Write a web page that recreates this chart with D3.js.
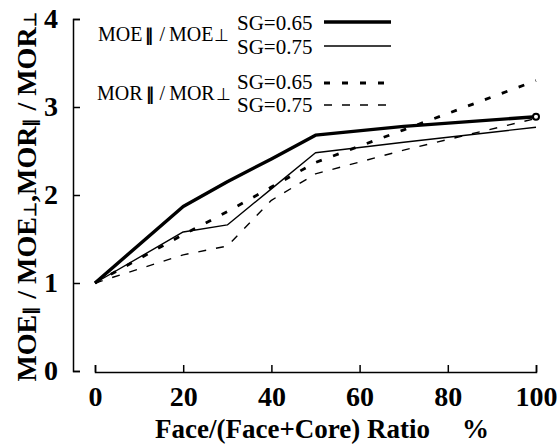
<!DOCTYPE html>
<html>
<head>
<meta charset="utf-8">
<script src="https://cdn.jsdelivr.net/npm/d3@7"></script>
<style>
  body { margin: 0; background: #fff; }
  svg { display: block; }
  text { font-family: "Liberation Serif", "Times New Roman", serif; fill: #000; }
</style>
</head>
<body>
<div id="chart"></div>
<script>
var w = 557, h = 448;

// face ratio (%) and stiffness / strength ratios read per series
var ratio  = [0, 20, 30, 40, 50, 70, 100];
var moe065 = [1.00, 1.87, 2.15, 2.41, 2.68, 2.78, 2.89];
var moe075 = [1.00, 1.58, 1.66, 2.07, 2.48, 2.60, 2.77];
var mor065 = [1.00, 1.55, 1.81, 2.09, 2.37, 2.74, 3.30];
var mor075 = [1.00, 1.32, 1.42, 1.94, 2.24, 2.51, 2.87];

var xTicks = [0, 20, 40, 60, 80, 100];
var yTicks = [0, 1, 2, 3, 4];

var series = [
  { name: "moe065", vals: moe065, width: 3.4, dash: null },
  { name: "moe075", vals: moe075, width: 1.4, dash: null },
  { name: "mor065", vals: mor065, width: 2.8, dash: "6,12" },
  { name: "mor075", vals: mor075, width: 1.4, dash: "8,10" }
];

var x = d3.scaleLinear().domain([0, 100]).range([95, 536]);
var y = d3.scaleLinear().domain([0, 4]).range([371, 19]);

var svg = d3.select("#chart").append("svg")
  .attr("width", w)
  .attr("height", h);

// axes: ticks point into the plot
var yAxis = d3.axisLeft(y).tickValues(yTicks).tickFormat(d3.format("d"))
  .tickSizeInner(-7).tickSizeOuter(-7).tickPadding(15);
var xAxis = d3.axisBottom(x).tickValues(xTicks).tickFormat(d3.format("d"))
  .tickSizeInner(-7).tickSizeOuter(-7).tickPadding(14);

var gy = svg.append("g").attr("transform", "translate(73,0)").call(yAxis);
var gx = svg.append("g").attr("transform", "translate(0,372)").call(xAxis);

[gx, gy].forEach(function(g) {
  g.selectAll("path, line").attr("stroke", "#000").attr("stroke-width", 1.5);
  g.selectAll("text")
    .style("font-family", "'Liberation Serif', serif")
    .style("font-weight", "bold")
    .style("font-size", "28px")
    .attr("fill", "#000");
});

var line = d3.line()
  .x(function(d) { return x(d[0]); })
  .y(function(d) { return y(d[1]); });

series.forEach(function(s) {
  var pts = ratio.map(function(r, i) { return [r, s.vals[i]]; });
  svg.append("path")
    .datum(pts)
    .attr("d", line)
    .attr("fill", "none")
    .attr("stroke", "#000")
    .attr("stroke-width", s.width)
    .attr("stroke-dasharray", s.dash)
    .attr("stroke-linejoin", "round");
});

// small open marker at the end of the thick curve
svg.append("circle")
  .attr("cx", x(ratio[ratio.length - 1]))
  .attr("cy", y(moe065[moe065.length - 1]))
  .attr("r", 3)
  .attr("fill", "#fff")
  .attr("stroke", "#000")
  .attr("stroke-width", 2);

// legend
function ratioLabel(g, px, py, base) {
  var t = g.append("text").attr("x", px).attr("y", py).style("font-size", "20px");
  t.append("tspan").text(base);
  t.append("tspan").text("\u2225").style("font-size", "17px").style("font-weight", "bold").attr("dx", 3);
  t.append("tspan").text("/").attr("dx", 5);
  t.append("tspan").text(base).attr("dx", 4);
  t.append("tspan").text("\u22A5").style("font-size", "17px").attr("dx", 1);
}

var leg = svg.append("g");
ratioLabel(leg, 98, 41, "MOE");
ratioLabel(leg, 97, 100, "MOR");

var legRows = [
  { label: "SG=0.65", ty: 30, ly: 22, s: series[0] },
  { label: "SG=0.75", ty: 54, ly: 46, s: series[1] },
  { label: "SG=0.65", ty: 89, ly: 83, s: series[2] },
  { label: "SG=0.75", ty: 112, ly: 105, s: series[3] }
];

legRows.forEach(function(r) {
  leg.append("text")
    .attr("x", 237).attr("y", r.ty)
    .style("font-size", "21px")
    .text(r.label);
  leg.append("line")
    .attr("x1", 324).attr("x2", 391)
    .attr("y1", r.ly).attr("y2", r.ly)
    .attr("stroke", "#000")
    .attr("stroke-width", r.s.width)
    .attr("stroke-dasharray", r.s.dash);
});

// x axis title
svg.append("text")
  .attr("x", 155).attr("y", 438)
  .style("font-size", "27px").style("font-weight", "bold")
  .text("Face/(Face+Core) Ratio");
svg.append("text")
  .attr("x", 462).attr("y", 438)
  .style("font-size", "27px").style("font-weight", "bold")
  .text("%");

// y axis title, rotated
var yt = svg.append("text")
  .attr("transform", "translate(36,197) rotate(-90)")
  .attr("text-anchor", "middle")
  .style("font-size", "28px").style("font-weight", "bold");
[["MOE", false], ["\u2225", true], [" / MOE", false], ["\u22A5", true], [",MOR", false],
 ["\u2225", true], [" / MOR", false], ["\u22A5", true]].forEach(function(p) {
  yt.append("tspan").text(p[0]).style("font-size", p[1] ? "17px" : "28px");
});
</script>
</body>
</html>
